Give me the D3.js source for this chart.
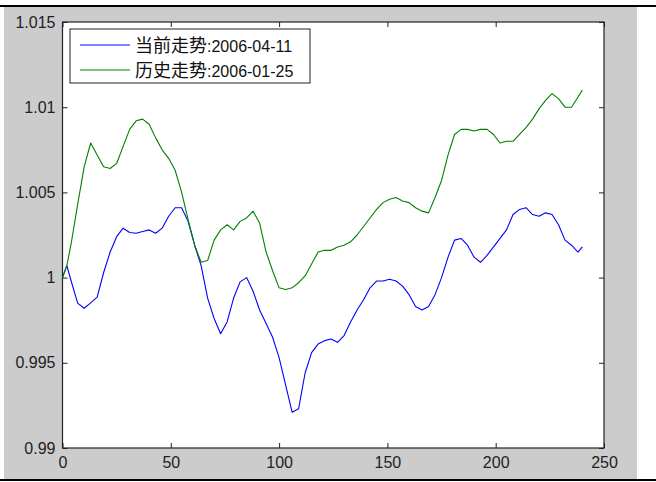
<!DOCTYPE html>
<html>
<head>
<meta charset="utf-8">
<script src="https://cdn.jsdelivr.net/npm/d3@7"></script>
<style>
  body { margin: 0; background: #fff; }
  svg { display: block; }
</style>
</head>
<body>
<div id="content"></div>
<script>
// sample positions (trading day index)
var days = [0, 2, 4, 7, 10, 13, 16, 19, 22, 25, 28, 31, 34, 37, 40, 43, 46, 49, 52, 55,
    58, 61, 64, 67, 70, 73, 76, 79, 82, 85, 88, 91, 94, 97, 100, 103, 106, 109, 112, 115,
    118, 121, 124, 127, 130, 133, 136, 139, 142, 145, 148, 151, 154, 157, 160, 163, 166, 169, 172, 175,
    178, 181, 184, 187, 190, 193, 196, 199, 202, 205, 208, 211, 214, 217, 220, 223, 226, 229, 232, 235,
    238, 240];

// 当前走势 2006-04-11
var currentTrend = [1.0000, 1.0007, 0.9998, 0.9985, 0.9982, 0.99852, 0.99885, 1.0003, 1.0015, 1.0024,
    1.0029, 1.00265, 1.0026, 1.0027, 1.0028, 1.0026, 1.0029, 1.0036, 1.0041, 1.0041,
    1.0033, 1.0019, 1.0007, 0.9988, 0.9976, 0.9967, 0.9974, 0.9988, 0.99975, 1.0000,
    0.9992, 0.9981, 0.9973, 0.9965, 0.9953, 0.9937, 0.9921, 0.9923, 0.9944, 0.9956,
    0.9961, 0.9963, 0.9964, 0.9962, 0.9966, 0.9974, 0.9981, 0.9987, 0.9994, 0.9998,
    0.9998, 0.9999, 0.9998, 0.9995, 0.9990, 0.9983, 0.9981, 0.9983, 0.9990, 1.0000,
    1.0012, 1.0022, 1.0023, 1.0019, 1.0012, 1.0009, 1.0013, 1.0018, 1.0023, 1.0028,
    1.0037, 1.0040, 1.0041, 1.0037, 1.0036, 1.0038, 1.0037, 1.0031, 1.0022, 1.0019,
    1.0015, 1.0018];

// 历史走势 2006-01-25
var pastTrend = [1.0000, 1.0007, 1.0020, 1.0043, 1.0065, 1.0079, 1.0072, 1.0065, 1.0064, 1.0067,
    1.0077, 1.0087, 1.0092, 1.0093, 1.0090, 1.0082, 1.0075, 1.0070, 1.0063, 1.0050,
    1.0034, 1.0019, 1.0009, 1.0010, 1.0022, 1.0028, 1.0031, 1.0028, 1.0033, 1.0035,
    1.0039, 1.0032, 1.0015, 1.0004, 0.9994, 0.9993, 0.9994, 0.9997, 1.0001, 1.0008,
    1.0015, 1.0016, 1.0016, 1.0018, 1.0019, 1.0021, 1.0025, 1.0030, 1.0035, 1.0040,
    1.0044, 1.0046, 1.0047, 1.0045, 1.0044, 1.0041, 1.0039, 1.0038, 1.0047, 1.0057,
    1.0072, 1.0084, 1.0087, 1.0087, 1.0086, 1.0087, 1.0087, 1.0084, 1.0079, 1.0080,
    1.0080, 1.0084, 1.0088, 1.0093, 1.0099, 1.0104, 1.0108, 1.0105, 1.0100, 1.0100,
    1.0106, 1.0110];

var xTicks = [0, 50, 100, 150, 200, 250];
var yTicks = [0.99, 0.995, 1, 1.005, 1.01, 1.015];
var seriesNames = ["当前走势", "历史走势"];
var seriesDates = [":2006-04-11", ":2006-01-25"];
var seriesColors = ["#0000ff", "#008000"];

var W = 656, H = 482;
var margin = { top: 22, right: 52, bottom: 34, left: 62.5 },
    width = 604 - margin.left,
    height = 448 - margin.top;

var svg = d3.select("div#content").append("svg")
    .attr("width", W)
    .attr("height", H);

// figure background
svg.append("rect").attr("x", 4).attr("y", 7).attr("width", 633).attr("height", 472).attr("fill", "#cccccc");
svg.append("line").attr("x1", 0).attr("x2", W).attr("y1", 6).attr("y2", 6).attr("stroke", "#000").attr("stroke-width", 2);
svg.append("line").attr("x1", 0).attr("x2", W).attr("y1", 480).attr("y2", 480).attr("stroke", "#000").attr("stroke-width", 2);

var g = svg.append("g")
    .attr("transform", "translate(" + margin.left + "," + margin.top + ")");

var x = d3.scaleLinear().domain([0, 250]).range([0, width]);
var y = d3.scaleLinear().domain([0.99, 1.015]).range([height, 0]);

g.append("rect").attr("width", width).attr("height", height).attr("fill", "#fff");

function styleAxis(sel) {
    sel.select(".domain").remove();
    sel.selectAll(".tick line").attr("stroke", "#222");
    sel.selectAll(".tick text").attr("fill", "#222")
        .style("font-family", "'Liberation Sans', Arial, sans-serif")
        .style("font-size", "16px");
}

g.append("g")
    .attr("transform", "translate(0," + height + ")")
    .call(d3.axisBottom(x).tickValues(xTicks).tickSize(-5).tickPadding(9).tickFormat(d3.format("d")))
    .call(styleAxis);

g.append("g")
    .call(d3.axisTop(x).tickValues(xTicks).tickSize(-5).tickFormat(""))
    .call(styleAxis);

g.append("g")
    .call(d3.axisLeft(y).tickValues(yTicks).tickSize(-5).tickPadding(7).tickFormat(function(d) { return d3.format("")(+d.toFixed(3)); }))
    .call(styleAxis);

g.append("g")
    .attr("transform", "translate(" + width + ",0)")
    .call(d3.axisRight(y).tickValues(yTicks).tickSize(-5).tickFormat(""))
    .call(styleAxis);

g.append("rect").attr("width", width).attr("height", height)
    .attr("fill", "none").attr("stroke", "#222").attr("stroke-width", 1.2);

var line = d3.line()
    .x(function(d) { return x(d[0]); })
    .y(function(d) { return y(d[1]); });

[currentTrend, pastTrend].forEach(function(vals, k) {
    g.append("path")
        .datum(days.map(function(dd, i) { return [dd, vals[i]]; }))
        .attr("fill", "none")
        .attr("stroke", seriesColors[k])
        .attr("stroke-width", 1.1)
        .attr("stroke-linejoin", "round")
        .attr("d", line);
});

// legend
var lg = svg.append("g").attr("transform", "translate(70,29)");
lg.append("rect").attr("width", 240).attr("height", 54)
    .attr("fill", "#fff").attr("stroke", "#222").attr("stroke-width", 1);

seriesNames.forEach(function(name, k) {
    var yy = 16 + k * 25;
    lg.append("line").attr("x1", 10).attr("x2", 60).attr("y1", yy).attr("y2", yy)
        .attr("stroke", seriesColors[k]).attr("stroke-width", 1.1);
    var t = lg.append("text").attr("x", 65).attr("y", yy + 7).attr("fill", "#111");
    t.append("tspan").text(name)
        .style("font-family", "'Noto Sans CJK SC', sans-serif").style("font-size", "18px");
    t.append("tspan").text(seriesDates[k])
        .style("font-family", "'Liberation Sans', Arial, sans-serif").style("font-size", "16px");
});
</script>
</body>
</html>
